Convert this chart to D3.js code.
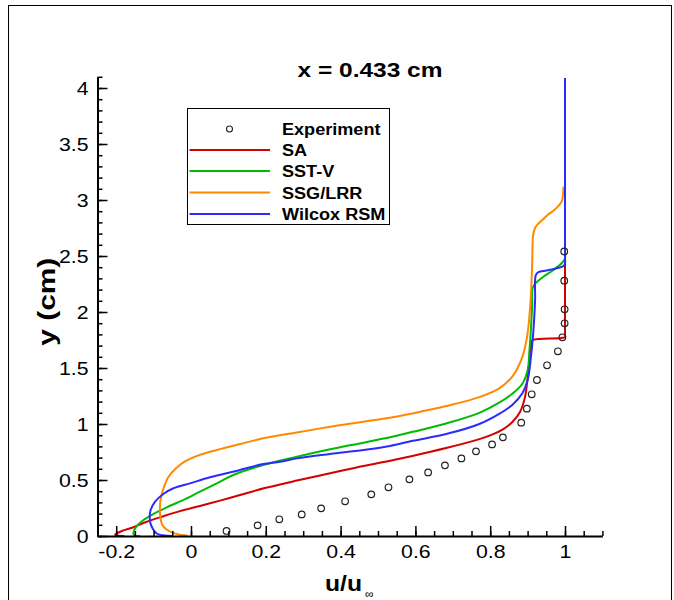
<!DOCTYPE html>
<html>
<head>
<meta charset="utf-8">
<script src="https://cdn.jsdelivr.net/npm/d3@7"></script>
<style>
  html, body { margin: 0; padding: 0; background: #fff; }
  svg { display: block; }
</style>
</head>
<body>
<svg id="chart" width="674" height="600"></svg>
<script>
// Velocity profiles at x = 0.433 cm: u/u_inf against wall distance y (cm)

const expU = [0.095, 0.178, 0.236, 0.296, 0.348, 0.412, 0.482, 0.528, 0.584, 0.634, 0.679, 0.723, 0.762,
              0.805, 0.834, 0.883, 0.898, 0.911, 0.925, 0.952, 0.981, 0.993, 0.999, 0.999, 0.998, 0.998];
const expY = [0.045, 0.095, 0.149, 0.193, 0.247, 0.31, 0.372, 0.435, 0.506, 0.568, 0.631, 0.693, 0.756,
              0.818, 0.881, 1.012, 1.137, 1.265, 1.393, 1.524, 1.649, 1.774, 1.899, 2.024, 2.28, 2.54];

const saU = [-0.178, -0.198, -0.203, -0.185, -0.154, -0.12, -0.078, -0.03, 0.024, 0.08, 0.131, 0.2, 0.283,
             0.372, 0.461, 0.532, 0.586, 0.682, 0.771, 0.805, 0.835, 0.86, 0.88, 0.893, 0.899, 0.903,
             0.908, 0.911, 0.915, 0.99, 1.0, 1.0, 1.0, 1.0];
const saY = [0.0, 0.004, 0.012, 0.045, 0.078, 0.125, 0.172, 0.222, 0.268, 0.318, 0.366, 0.43, 0.495,
             0.56, 0.625, 0.672, 0.71, 0.785, 0.865, 0.905, 0.955, 1.02, 1.11, 1.24, 1.38, 1.5,
             1.62, 1.74, 1.752, 1.768, 1.775, 1.8, 4.0, 4.09];

const sstU = [-0.136, -0.15, -0.154, -0.152, -0.145, -0.127, -0.101, -0.065, -0.021, 0.024, 0.069, 0.113,
              0.193, 0.283, 0.372, 0.461, 0.532, 0.593, 0.682, 0.771, 0.824, 0.859, 0.886, 0.9, 0.905,
              0.909, 0.912, 0.914, 0.924, 0.942, 0.969, 0.991, 1.0, 1.0, 1.0, 1.0];
const sstY = [0.0, 0.003, 0.02, 0.05, 0.089, 0.143, 0.196, 0.256, 0.321, 0.396, 0.47, 0.545,
              0.634, 0.708, 0.774, 0.833, 0.881, 0.93, 1.005, 1.1, 1.19, 1.27, 1.36, 1.48, 1.66,
              1.85, 2.05, 2.22, 2.265, 2.315, 2.375, 2.435, 2.48, 2.55, 4.0, 4.09];

const ssgU = [-0.01, -0.03, -0.05, -0.066, -0.077, -0.082, -0.083, -0.08, -0.072, -0.061, -0.04, -0.015,
              0.02, 0.069, 0.131, 0.193, 0.283, 0.372, 0.461, 0.532, 0.593, 0.682, 0.771, 0.824, 0.859,
              0.886, 0.9, 0.908, 0.912, 0.915, 0.92, 0.929, 0.942, 0.955, 0.969, 0.982, 0.991, 0.994, 0.996];
const ssgY = [0.004, 0.012, 0.03, 0.06, 0.1, 0.172, 0.262, 0.351, 0.44, 0.525, 0.605, 0.668,
              0.72, 0.768, 0.821, 0.872, 0.925, 0.975, 1.02, 1.055, 1.095, 1.16, 1.24, 1.318, 1.423,
              1.6, 1.81, 2.107, 2.4, 2.69, 2.75, 2.79, 2.83, 2.87, 2.905, 2.946, 2.985, 3.03, 3.12];

const wilU = [-0.05, -0.075, -0.092, -0.105, -0.11, -0.108, -0.096, -0.074, -0.047, -0.003, 0.051, 0.095,
              0.131, 0.193, 0.238, 0.283, 0.372, 0.461, 0.532, 0.593, 0.682, 0.771, 0.824, 0.859, 0.886,
              0.9, 0.908, 0.915, 0.92, 0.922, 0.929, 0.951, 0.978, 0.996, 1.0, 1.0, 1.0, 1.0];
const wilY = [0.0, 0.006, 0.022, 0.083, 0.143, 0.232, 0.306, 0.375, 0.426, 0.47, 0.524, 0.56,
              0.589, 0.643, 0.663, 0.693, 0.732, 0.768, 0.804, 0.85, 0.91, 1.0, 1.09, 1.17, 1.274,
              1.39, 1.57, 1.81, 2.1, 2.33, 2.355, 2.37, 2.39, 2.41, 2.435, 2.5, 4.0, 4.09];

const seriesNames  = ["SA", "SST-V", "SSG/LRR", "Wilcox RSM"];
const seriesColors = ["#d40000", "#00bb00", "#ff8a00", "#2b2bff"];
const seriesU = [saU, sstU, ssgU, wilU];
const seriesY = [saY, sstY, ssgY, wilY];

const xMajor = [-0.2, 0, 0.2, 0.4, 0.6, 0.8, 1];
const yMajor = [0, 0.5, 1, 1.5, 2, 2.5, 3, 3.5, 4];

const svg = d3.select("#chart");
const x = d3.scaleLinear().domain([-0.25, 1.1]).range([97.5, 602.4]);
const y = d3.scaleLinear().domain([0, 4.1]).range([536, 76.8]);

// widen text horizontally by factor k
function stretch(sel, k) {
  sel.each(function () {
    const w = this.getComputedTextLength();
    if (w > 0) d3.select(this).attr("textLength", w * k).attr("lengthAdjust", "spacingAndGlyphs");
  });
}

// outer frame
svg.append("rect").attr("x", 8.5).attr("y", 5.5).attr("width", 663).attr("height", 620)
  .attr("fill", "none").attr("stroke", "#000").attr("stroke-width", 1);

// curves
const line = d3.line().x(d => x(d[0])).y(d => y(d[1])).curve(d3.curveCatmullRom.alpha(0.5));
seriesU.forEach((us, i) => {
  const pts = us.map((u, j) => [u, seriesY[i][j]]);
  svg.append("path").datum(pts).attr("d", line)
    .attr("fill", "none").attr("stroke", seriesColors[i]).attr("stroke-width", 2)
    .attr("stroke-linejoin", "round");
});

// experimental points
svg.append("g").selectAll("circle").data(expU.map((u, j) => [u, expY[j]])).join("circle")
  .attr("cx", d => x(d[0])).attr("cy", d => y(d[1])).attr("r", 3.3)
  .attr("fill", "none").attr("stroke", "#222").attr("stroke-width", 1.2);

// axes: minor ticks first, then major ticks with labels
const xMinor = d3.range(-0.25, 1.1001, 0.05);
const yMinor = d3.range(0, 4.1001, 0.1);

const gxMinor = svg.append("g").attr("transform", "translate(0,536)")
  .call(d3.axisBottom(x).tickValues(xMinor).tickSize(-5).tickSizeOuter(0).tickFormat(""));
const gyMinor = svg.append("g").attr("transform", "translate(97.5,0)")
  .call(d3.axisLeft(y).tickValues(yMinor).tickSize(-5).tickSizeOuter(0).tickFormat(""));
[gxMinor, gyMinor].forEach(g => {
  g.select(".domain").remove();
  g.selectAll(".tick line").attr("stroke", "#000").attr("stroke-width", 1.5);
});

const gx = svg.append("g").attr("transform", "translate(0,536)")
  .call(d3.axisBottom(x).tickValues(xMajor).tickSize(-10).tickSizeOuter(0).tickPadding(9)
    .tickFormat(d => d3.format("")(d)));
const gy = svg.append("g").attr("transform", "translate(97.5,0)")
  .call(d3.axisLeft(y).tickValues(yMajor).tickSize(-10).tickSizeOuter(0).tickPadding(9)
    .tickFormat(d => d3.format("")(d)));
[gx, gy].forEach(g => {
  g.select(".domain").attr("stroke", "#000").attr("stroke-width", 2);
  g.selectAll(".tick line").attr("stroke", "#000").attr("stroke-width", 1.5);
  g.selectAll(".tick text").attr("fill", "#000")
    .style("font-family", "'Liberation Sans', Arial, sans-serif").style("font-size", "19px");
});
gx.selectAll(".tick text").text(d => d < 0 ? "-" + Math.abs(d) : d);
stretch(gx.selectAll(".tick text"), 1.12);
stretch(gy.selectAll(".tick text"), 1.12);

// title
svg.append("text").attr("x", 370).attr("y", 77).attr("text-anchor", "middle")
  .style("font-family", "'Liberation Sans', Arial, sans-serif").style("font-weight", "bold")
  .style("font-size", "19.5px").attr("textLength", 145).attr("lengthAdjust", "spacingAndGlyphs")
  .text("x = 0.433 cm");

// axis titles
svg.append("text").attr("transform", "translate(55,301.7) rotate(-90)").attr("text-anchor", "middle")
  .style("font-family", "'Liberation Sans', Arial, sans-serif").style("font-weight", "bold")
  .style("font-size", "23px").attr("textLength", 88).attr("lengthAdjust", "spacingAndGlyphs")
  .text("y (cm)");
svg.append("text").attr("x", 325).attr("y", 591)
  .style("font-family", "'Liberation Sans', Arial, sans-serif").style("font-weight", "bold")
  .style("font-size", "22px").attr("textLength", 37).attr("lengthAdjust", "spacingAndGlyphs")
  .text("u/u");
svg.append("text").attr("x", 365).attr("y", 598)
  .style("font-family", "'Liberation Sans', Arial, sans-serif")
  .style("font-size", "12px").text("\u221e");

// legend
const legend = svg.append("g");
legend.append("rect").attr("x", 187.5).attr("y", 108.5).attr("width", 202).attr("height", 116)
  .attr("fill", "#fff").attr("stroke", "#000").attr("stroke-width", 1);
const rowY = [129, 150, 171, 192.5, 214];
legend.append("circle").attr("cx", 229.5).attr("cy", rowY[0]).attr("r", 3)
  .attr("fill", "none").attr("stroke", "#222").attr("stroke-width", 1.1);
seriesNames.forEach((n, i) => {
  legend.append("line").attr("x1", 189.5).attr("x2", 270).attr("y1", rowY[i + 1]).attr("y2", rowY[i + 1])
    .attr("stroke", seriesColors[i]).attr("stroke-width", 2);
});
const legendLabels = legend.selectAll("text.lab").data(["Experiment"].concat(seriesNames)).join("text")
  .attr("class", "lab").attr("x", 282).attr("y", (d, i) => rowY[i] + 6)
  .style("font-family", "'Liberation Sans', Arial, sans-serif").style("font-weight", "bold")
  .style("font-size", "16px").attr("fill", "#000").text(d => d);
stretch(legendLabels, 1.13);
</script>
</body>
</html>
